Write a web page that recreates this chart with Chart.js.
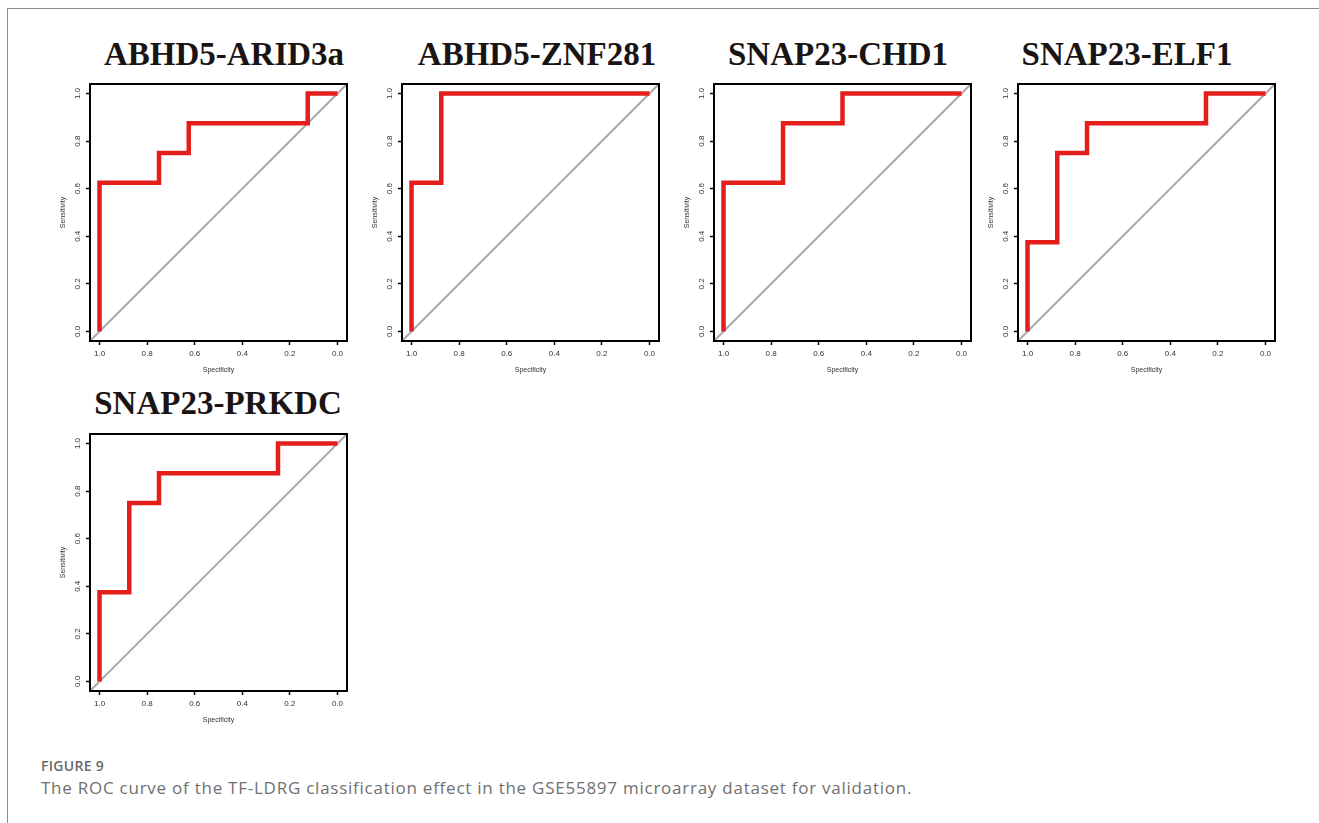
<!DOCTYPE html>
<html>
<head>
<meta charset="utf-8">
<script src="https://cdn.jsdelivr.net/npm/chart.js@4/dist/chart.umd.min.js"></script>
<style>
  body { margin: 0; width: 1319px; height: 823px; background: #fff; overflow: hidden; position: relative; }
  .frame-top { position: absolute; left: 7px; top: 8px; width: 1312px; height: 1px; background: #8c8c8c; }
  .frame-left { position: absolute; left: 7px; top: 8px; width: 1px; height: 815px; background: #8c8c8c; }
  .title { position: absolute; width: 320px; text-align: center; font-family: "Liberation Serif", serif; font-weight: bold; font-size: 33px; line-height: 33px; color: #1a1414; white-space: nowrap; }
  canvas { position: absolute; }
  .fig { position: absolute; left: 41px; top: 759px; font-family: "Open Sans", sans-serif; font-weight: 600; font-size: 14px; line-height: 14px; letter-spacing: 0.3px; color: #6a6a6a; }
  .cap { position: absolute; left: 41px; top: 779px; font-family: "Open Sans", sans-serif; font-size: 17px; line-height: 17px; letter-spacing: 0.75px; color: #707070; white-space: nowrap; }
</style>
</head>
<body>
<div class="frame-top"></div>
<div class="frame-left"></div>
<div class="fig">FIGURE 9</div>
<div class="cap">The ROC curve of the TF-LDRG classification effect in the GSE55897 microarray dataset for validation.</div>

<script>
// panel titles
const panelTitles = ['ABHD5-ARID3a', 'ABHD5-ZNF281', 'SNAP23-CHD1', 'SNAP23-ELF1', 'SNAP23-PRKDC'];

// ROC curves: specificity (x, reversed) and sensitivity (y)
const arid3aSpec = [1.0, 1.0, 0.75, 0.75, 0.625, 0.625, 0.125, 0.125, 0.0];
const arid3aSens = [0.0, 0.625, 0.625, 0.75, 0.75, 0.875, 0.875, 1.0, 1.0];

const znf281Spec = [1.0, 1.0, 0.875, 0.875, 0.0];
const znf281Sens = [0.0, 0.625, 0.625, 1.0, 1.0];

const chd1Spec = [1.0, 1.0, 0.75, 0.75, 0.5, 0.5, 0.0];
const chd1Sens = [0.0, 0.625, 0.625, 0.875, 0.875, 1.0, 1.0];

const elf1Spec = [1.0, 1.0, 0.875, 0.875, 0.75, 0.75, 0.25, 0.25, 0.0];
const elf1Sens = [0.0, 0.375, 0.375, 0.75, 0.75, 0.875, 0.875, 1.0, 1.0];

const prkdcSpec = [1.0, 1.0, 0.875, 0.875, 0.75, 0.75, 0.25, 0.25, 0.0];
const prkdcSens = [0.0, 0.375, 0.375, 0.75, 0.75, 0.875, 0.875, 1.0, 1.0];

// reference diagonal, corner to corner of the plot box
const diagSpec = [1.04, -0.04];
const diagSens = [-0.04, 1.04];

const tickValues = [0, 0.2, 0.4, 0.6, 0.8, 1.0];
const axisMin = -0.04;
const axisMax = 1.04;

const curves = [
    [arid3aSpec, arid3aSens],
    [znf281Spec, znf281Sens],
    [chd1Spec, chd1Sens],
    [elf1Spec, elf1Sens],
    [prkdcSpec, prkdcSens],
];

// layout: plot box left/top, title centre/top
const boxPos = [[90, 84], [402, 84], [714, 84], [1018, 84], [90, 434]];
const titlePos = [[224, 38], [537, 38], [838, 38], [1127, 38], [218, 387]];
const boxSize = 257;
const yAxisW = 40;
const xAxisH = 40;
const padTop = 10;
const padRight = 12;

const boxPlugin = {
    id: 'box',
    afterDatasetsDraw(chart) {
        const a = chart.chartArea;
        const ctx = chart.ctx;
        ctx.save();
        ctx.strokeStyle = '#000';
        ctx.lineWidth = 2;
        ctx.strokeRect(a.left, a.top, a.right - a.left, a.bottom - a.top);
        ctx.restore();
    }
};

function toPoints(xs, ys) {
    return xs.map((x, i) => ({ x: x, y: ys[i] }));
}

function makePanel(i) {
    const t = document.createElement('div');
    t.className = 'title';
    t.textContent = panelTitles[i];
    t.style.left = (titlePos[i][0] - 160) + 'px';
    t.style.top = titlePos[i][1] + 'px';
    document.body.appendChild(t);

    const canvas = document.createElement('canvas');
    canvas.width = yAxisW + boxSize + padRight;
    canvas.height = padTop + boxSize + xAxisH;
    canvas.style.left = (boxPos[i][0] - yAxisW) + 'px';
    canvas.style.top = (boxPos[i][1] - padTop) + 'px';
    document.body.appendChild(canvas);

    const tickFont = { family: '"Liberation Sans", Arial, sans-serif', size: 8 };
    const titleFont = { family: '"Liberation Sans", Arial, sans-serif', size: 7 };
    const grid = { display: true, drawOnChartArea: false, drawTicks: true, tickLength: 4, tickColor: '#000', tickWidth: 1.5 };

    new Chart(canvas.getContext('2d'), {
        type: 'scatter',
        data: {
            datasets: [
                {
                    data: toPoints(curves[i][0], curves[i][1]),
                    showLine: true,
                    borderColor: '#e41f1b',
                    borderWidth: 4.5,
                    borderJoinStyle: 'miter',
                    borderCapStyle: 'butt',
                    pointRadius: 0,
                    tension: 0,
                },
                {
                    data: toPoints(diagSpec, diagSens),
                    showLine: true,
                    borderColor: '#ababab',
                    borderWidth: 2,
                    pointRadius: 0,
                },
            ],
        },
        options: {
            responsive: false,
            animation: false,
            devicePixelRatio: 1,
            layout: { padding: { left: 0, top: padTop, right: padRight, bottom: 0 } },
            plugins: { legend: { display: false }, tooltip: { enabled: false } },
            scales: {
                x: {
                    type: 'linear',
                    reverse: true,
                    min: axisMin,
                    max: axisMax,
                    afterBuildTicks: s => { s.ticks = tickValues.map(v => ({ value: v })); },
                    afterFit: s => { s.height = xAxisH; },
                    grid: grid,
                    border: { display: false },
                    ticks: { font: tickFont, color: '#333', padding: 4, maxRotation: 0, callback: v => v.toFixed(1) },
                    title: { display: true, text: 'Specificity', font: titleFont, color: '#333', padding: { top: 0, bottom: 7 } },
                },
                y: {
                    type: 'linear',
                    min: axisMin,
                    max: axisMax,
                    afterBuildTicks: s => { s.ticks = tickValues.map(v => ({ value: v })); },
                    afterFit: s => { s.width = yAxisW; },
                    grid: grid,
                    border: { display: false },
                    ticks: { font: tickFont, color: '#333', padding: 3, minRotation: 90, maxRotation: 90, crossAlign: 'center', callback: v => v.toFixed(1) },
                    title: { display: true, text: 'Sensitivity', font: titleFont, color: '#333', padding: { top: 9, bottom: 0 } },
                },
            },
        },
        plugins: [boxPlugin],
    });
}

for (let i = 0; i < panelTitles.length; i++) {
    makePanel(i);
}
</script>
</body>
</html>
